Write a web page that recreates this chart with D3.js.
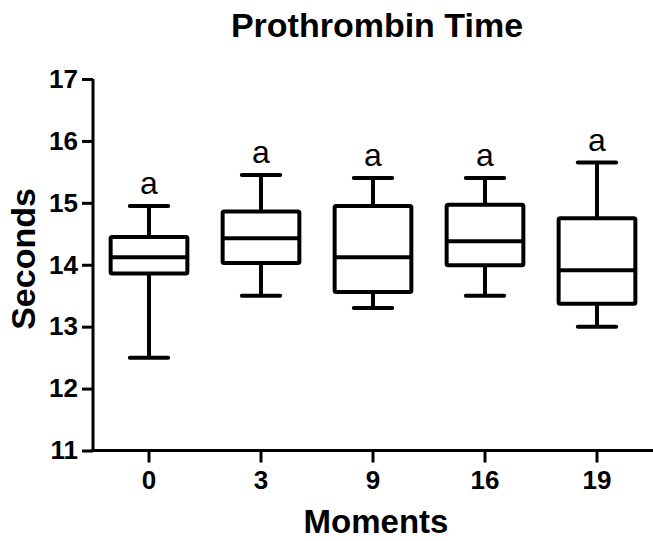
<!DOCTYPE html>
<html>
<head>
<meta charset="utf-8">
<script src="https://cdn.jsdelivr.net/npm/d3@7"></script>
<style>
  html, body { margin: 0; padding: 0; background: #fff; }
  svg { display: block; font-family: "Liberation Sans", Arial, sans-serif; }
</style>
</head>
<body>
<svg id="chart" width="653" height="541"></svg>
<script>
// Prothrombin time (seconds) at each sampling moment
const moments  = ["0", "3", "9", "16", "19"];
const whiskLow = [12.5, 13.5, 13.3, 13.5, 13.0];
const q1       = [13.86, 14.03, 13.56, 13.99, 13.37];
const median   = [14.12, 14.43, 14.12, 14.38, 13.91];
const q3       = [14.45, 14.86, 14.95, 14.97, 14.75];
const whiskHigh= [14.95, 15.45, 15.4, 15.4, 15.65];
const letters  = ["a", "a", "a", "a", "a"];
const yTicks   = [11, 12, 13, 14, 15, 16, 17];

const svg = d3.select("#chart");
const plotLeft = 93, plotRight = 653, plotTop = 79, plotBottom = 450.5;

const x = d3.scaleBand().domain(moments).range([plotLeft, plotRight]).padding(0);
const y = d3.scaleLinear().domain([11, 17]).range([plotBottom, plotTop]);

const boxW = x.bandwidth() * 0.685;
const capW = boxW * 0.5;
const lw = 4;

// Axes
const yAxis = svg.append("g")
  .attr("transform", `translate(${plotLeft},0)`)
  .call(d3.axisLeft(y).tickValues(yTicks).tickSize(11).tickPadding(4).tickFormat(d3.format("d")));
const xAxis = svg.append("g")
  .attr("transform", `translate(0,${plotBottom})`)
  .call(d3.axisBottom(x).tickSize(12).tickPadding(8).tickSizeOuter(0));

[yAxis, xAxis].forEach(g => {
  g.select(".domain").attr("stroke", "#000").attr("stroke-width", 3);
  g.selectAll(".tick line").attr("stroke", "#000").attr("stroke-width", 3);
  g.selectAll(".tick text")
    .attr("fill", "#000")
    .attr("font-family", "Liberation Sans, Arial, sans-serif")
    .attr("font-weight", "bold")
    .attr("font-size", 26);
});
// axis lines without outer ticks
yAxis.select(".domain").attr("d", `M0,${y(17)}V${plotBottom + 1.5}`);
xAxis.select(".domain").attr("d", `M${plotLeft - 1.5},0H${plotRight}`);

// Box plots
const data = moments.map((m, i) => ({
  m, lo: whiskLow[i], q1: q1[i], med: median[i], q3: q3[i], hi: whiskHigh[i], lab: letters[i]
}));

const g = svg.append("g").attr("stroke", "#000").attr("stroke-width", lw).attr("fill", "none");
data.forEach(d => {
  const cx = x(d.m) + x.bandwidth() / 2;
  // whiskers
  g.append("line").attr("x1", cx).attr("x2", cx).attr("y1", y(d.hi)).attr("y2", y(d.q3));
  g.append("line").attr("x1", cx).attr("x2", cx).attr("y1", y(d.q1)).attr("y2", y(d.lo));
  g.append("line").attr("x1", cx - capW / 2).attr("x2", cx + capW / 2).attr("y1", y(d.hi)).attr("y2", y(d.hi)).attr("stroke-linecap", "round");
  g.append("line").attr("x1", cx - capW / 2).attr("x2", cx + capW / 2).attr("y1", y(d.lo)).attr("y2", y(d.lo)).attr("stroke-linecap", "round");
  // box
  g.append("rect").attr("x", cx - boxW / 2).attr("y", y(d.q3))
    .attr("width", boxW).attr("height", y(d.q1) - y(d.q3))
    .attr("rx", 1.5).attr("fill", "#fff");
  // median
  g.append("line").attr("x1", cx - boxW / 2).attr("x2", cx + boxW / 2).attr("y1", y(d.med)).attr("y2", y(d.med));
  // significance letter
  svg.append("text").attr("x", cx).attr("y", y(d.hi) - 12)
    .attr("text-anchor", "middle").attr("font-size", 32).attr("fill", "#000")
    .text(d.lab);
});

// Titles
svg.append("text").attr("x", 377).attr("y", 37).attr("text-anchor", "middle")
  .attr("font-weight", "bold").attr("font-size", 34).attr("fill", "#000")
  .text("Prothrombin Time");
svg.append("text").attr("x", 376).attr("y", 533).attr("text-anchor", "middle")
  .attr("font-weight", "bold").attr("font-size", 33).attr("fill", "#000")
  .text("Moments");
svg.append("text").attr("transform", "translate(35,259) rotate(-90)").attr("text-anchor", "middle")
  .attr("font-weight", "bold").attr("font-size", 34).attr("fill", "#000")
  .text("Seconds");
</script>
</body>
</html>
